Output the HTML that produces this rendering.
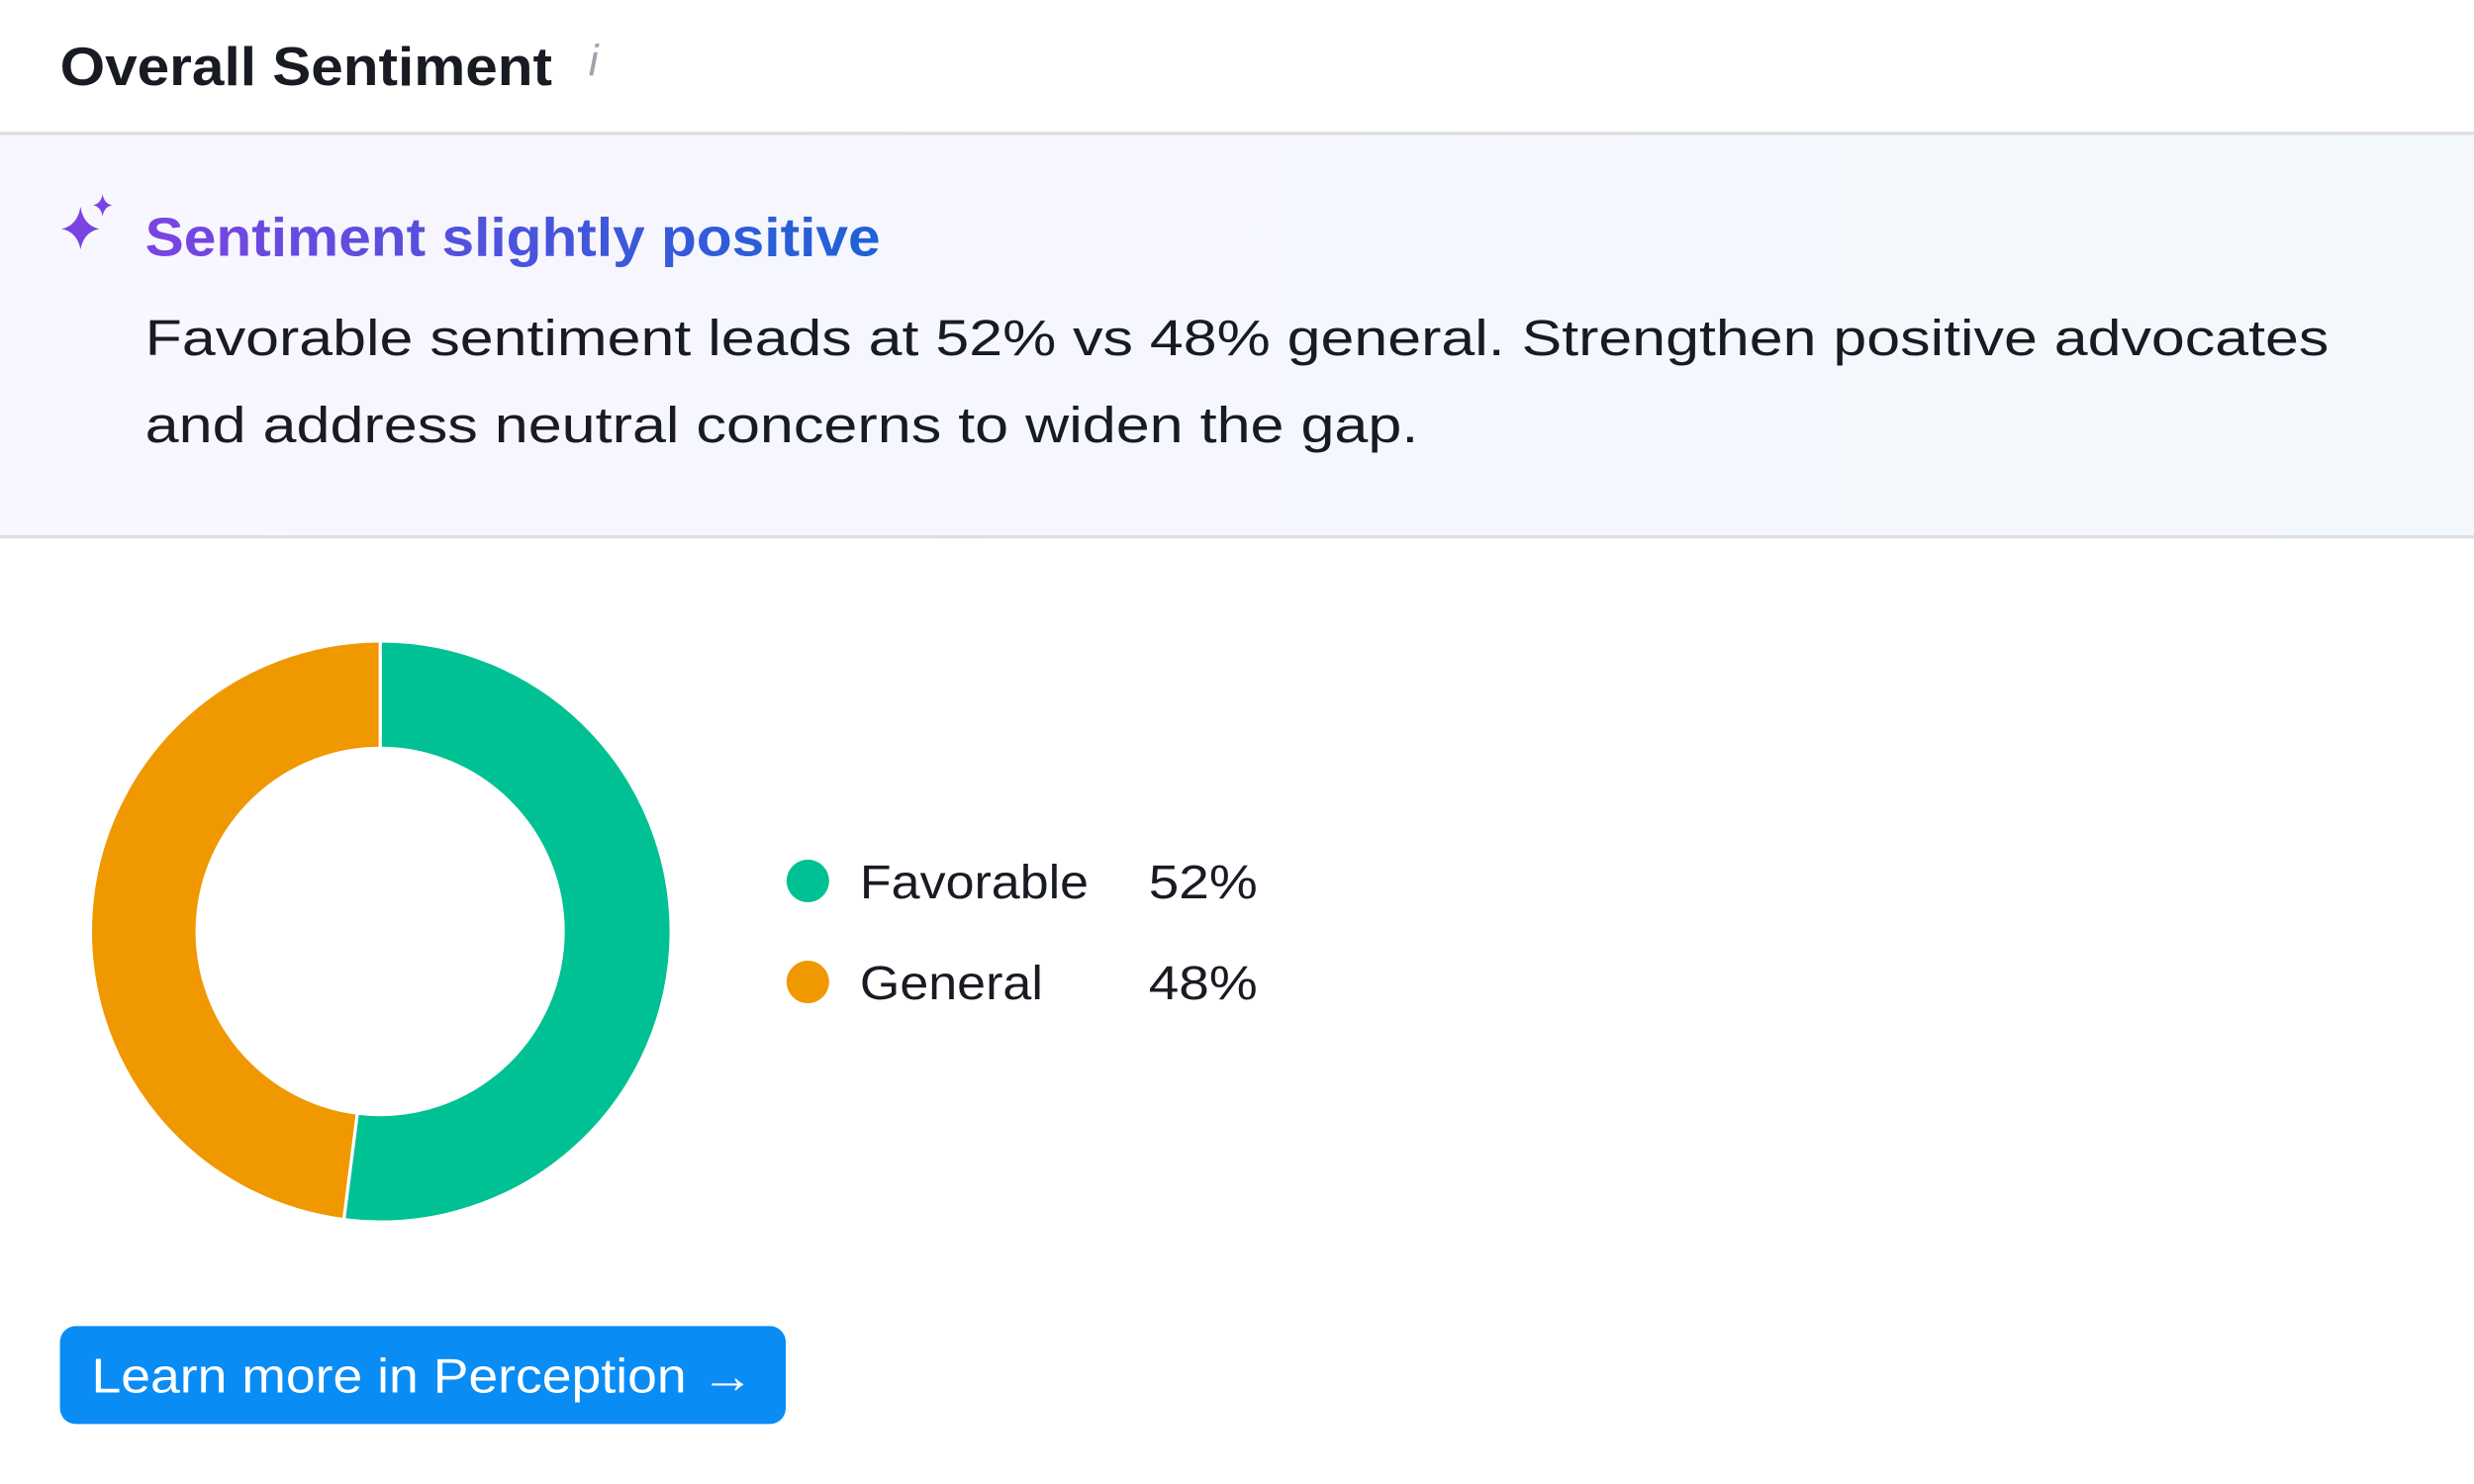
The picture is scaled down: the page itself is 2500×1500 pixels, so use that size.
<!DOCTYPE html>
<html><head><meta charset="utf-8"><style>
html,body{margin:0;padding:0;background:#fff;width:2500px;height:1500px;overflow:hidden}
svg{display:block}
text{font-family:"Liberation Sans",sans-serif}
</style></head><body>
<svg width="2500" height="1500" viewBox="0 0 1568 940" preserveAspectRatio="none">
<defs>
<linearGradient id="bg" x1="0" x2="1" y1="0" y2="0"><stop offset="0" stop-color="#f8f6fe"/><stop offset="1" stop-color="#f3f8fd"/></linearGradient>
<linearGradient id="tg" x1="92" x2="558" y1="0" y2="0" gradientUnits="userSpaceOnUse"><stop offset="0" stop-color="#7a44e2"/><stop offset="1" stop-color="#1d62d6"/></linearGradient>
</defs>
<rect width="1568" height="940" fill="#fff"/>
<text x="38" y="54" font-size="34" font-weight="bold" fill="#191b23" textLength="312" lengthAdjust="spacingAndGlyphs">Overall Sentiment</text>
<text x="373" y="48" font-size="28" font-style="italic" fill="#a0a2ad" font-family="Liberation Serif">i</text>
<rect x="0" y="85" width="1568" height="255" fill="url(#bg)"/>
<rect x="0" y="83.5" width="1568" height="2" fill="#dcdde3"/>
<rect x="0" y="339" width="1568" height="2" fill="#dcdde3"/>
<path d="M51 131 Q53 143 63 145 Q53 147 51 158 Q49 147 39 145 Q49 143 51 131Z" fill="#7a44e2"/>
<path d="M65 123 Q66 129 71 130 Q66 131 65 137 Q64 131 59 130 Q64 129 65 123Z" fill="#7a44e2"/>
<text x="92" y="162" font-size="34" font-weight="bold" fill="url(#tg)" textLength="466" lengthAdjust="spacingAndGlyphs">Sentiment slightly positive</text>
<text x="92" y="225" font-size="32" fill="#191b23" textLength="1384" lengthAdjust="spacingAndGlyphs">Favorable sentiment leads at 52% vs 48% general. Strengthen positive advocates</text>
<text x="92" y="280" font-size="32" fill="#191b23" textLength="807" lengthAdjust="spacingAndGlyphs">and address neutral concerns to widen the gap.</text>
<path d="M241 406 A184 184 0 1 1 217.9 772.5 L226.5 705.1 A116 116 0 1 0 241 474 Z" fill="#00c193" stroke="#fff" stroke-width="2"/>
<path d="M217.9 772.5 A184 184 0 0 1 241 406 L241 474 A116 116 0 0 0 226.5 705.1 Z" fill="#f09800" stroke="#fff" stroke-width="2"/>
<circle cx="512" cy="558" r="13.5" fill="#00c193"/>
<circle cx="512" cy="622" r="13.5" fill="#f09800"/>
<text x="545" y="569" font-size="30" fill="#191b23" textLength="145" lengthAdjust="spacingAndGlyphs">Favorable</text>
<text x="728" y="569" font-size="30" fill="#191b23" textLength="69" lengthAdjust="spacingAndGlyphs">52%</text>
<text x="545" y="633" font-size="30" fill="#191b23" textLength="116" lengthAdjust="spacingAndGlyphs">General</text>
<text x="728" y="633" font-size="30" fill="#191b23" textLength="69" lengthAdjust="spacingAndGlyphs">48%</text>
<rect x="38" y="840" width="460" height="62" rx="10" fill="#0a8cf5"/>
<text x="58" y="882" font-size="31" fill="#fff" textLength="420" lengthAdjust="spacingAndGlyphs">Learn more in Perception →</text>
</svg>
</body></html>
